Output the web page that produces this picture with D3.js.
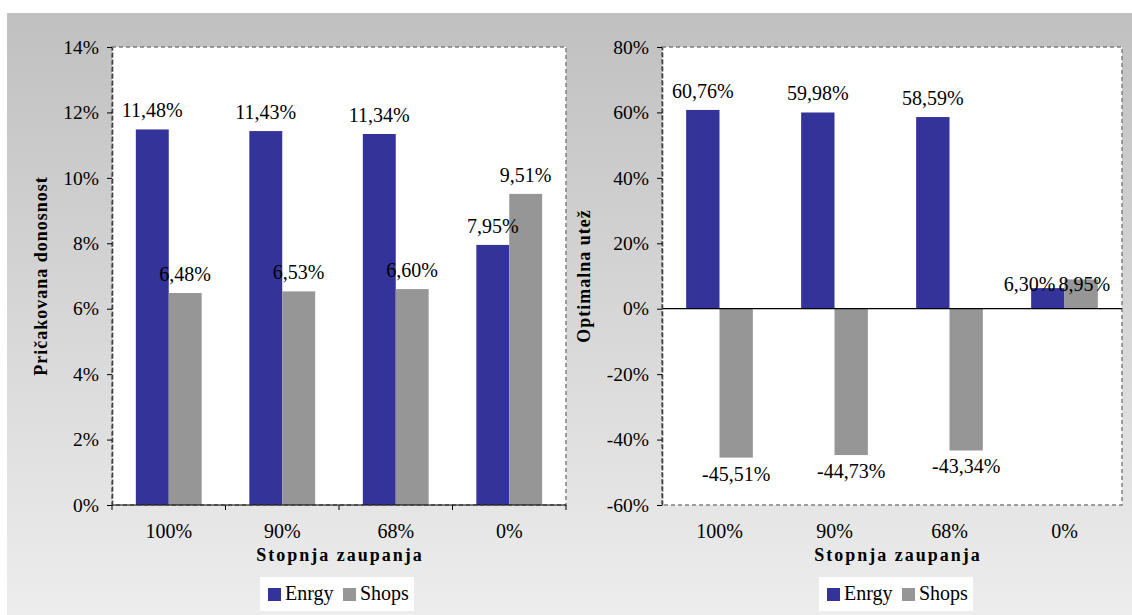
<!DOCTYPE html>
<html>
<head>
<meta charset="utf-8">
<script src="https://cdn.jsdelivr.net/npm/d3@7/dist/d3.min.js"></script>
<style>
  body { margin: 0; background: #fff; }
</style>
</head>
<body>
<div id="chart"></div>
<script>
const categories = ["100%", "90%", "68%", "0%"];
const seriesNames = ["Enrgy", "Shops"];
const seriesColors = ["#333399", "#969696"];

// pričakovana donosnost (%)
const returnEnergy = [11.48, 11.43, 11.34, 7.95];
const returnShops = [6.48, 6.53, 6.60, 9.51];
const returnTicks = [0, 2, 4, 6, 8, 10, 12, 14];

// optimalna utež (%)
const weightEnergy = [60.76, 59.98, 58.59, 6.30];
const weightShops = [-45.51, -44.73, -43.34, 8.95];
const weightTicks = [-60, -40, -20, 0, 20, 40, 60, 80];

const xTitle = "Stopnja zaupanja";

const width = 1132, height = 615;
const FONT = "'Liberation Serif'";

const svg = d3.select("#chart").append("svg")
    .attr("width", width)
    .attr("height", height)
    .style("font-family", FONT);

const defs = svg.append("defs");
const grad = defs.append("linearGradient")
    .attr("id", "bg")
    .attr("x1", 0).attr("y1", 0).attr("x2", 0).attr("y2", 1);
grad.append("stop").attr("offset", "0%").attr("stop-color", "#c0c0c0");
grad.append("stop").attr("offset", "100%").attr("stop-color", "#ededed");

svg.append("rect").attr("width", width).attr("height", height).attr("fill", "#fff");

const fmt = v => v.toFixed(2).replace(".", ",") + "%";

function drawChart(o) {
    const g = svg.append("g");

    g.append("rect")
        .attr("x", o.left).attr("y", 13)
        .attr("width", o.right - o.left).attr("height", height - 13)
        .attr("fill", "url(#bg)");

    const x = d3.scaleBand().domain(categories).range([o.px0, o.px1]);
    const y = d3.scaleLinear().domain(o.domain).range([o.py1, o.py0]);
    const inner = d3.scaleBand().domain(seriesNames)
        .range([0, x.bandwidth() * 0.58]);
    const off = x.bandwidth() * 0.21;

    g.append("rect")
        .attr("x", o.px0).attr("y", o.py0)
        .attr("width", o.px1 - o.px0).attr("height", o.py1 - o.py0)
        .attr("fill", "#fff");

    const rows = categories.map((c, i) => ({
        cat: c,
        vals: o.series.map((s, k) => ({ name: seriesNames[k], k: k, v: s[i] }))
    }));

    const grp = g.selectAll(".grp")
        .data(rows)
        .enter().append("g")
        .attr("class", "grp")
        .attr("transform", d => "translate(" + (x(d.cat) + off) + ",0)");

    grp.selectAll("rect")
        .data(d => d.vals)
        .enter().append("rect")
        .attr("x", d => inner(d.name))
        .attr("width", inner.bandwidth())
        .attr("y", d => y(Math.max(0, d.v)))
        .attr("height", d => Math.abs(y(d.v) - y(0)))
        .attr("fill", d => seriesColors[d.k]);

    // plot border
    g.append("rect")
        .attr("x", o.px0).attr("y", o.py0)
        .attr("width", o.px1 - o.px0).attr("height", o.py1 - o.py0)
        .attr("fill", "none")
        .attr("stroke", "#808080")
        .attr("stroke-width", 1.5)
        .attr("stroke-dasharray", "4,3");

    // zero line
    g.append("line")
        .attr("x1", o.px0).attr("x2", o.px1)
        .attr("y1", y(0)).attr("y2", y(0))
        .attr("stroke", "#000").attr("stroke-width", 1.2);

    // y axis
    const ya = g.append("g")
        .attr("transform", "translate(" + o.px0 + ",0)")
        .call(d3.axisLeft(y).tickValues(o.ticks).tickSize(5).tickSizeOuter(0)
            .tickPadding(8).tickFormat(d => d + "%"));
    ya.attr("font-family", null).attr("font-size", null);
    ya.select(".domain").attr("stroke", "#404040").attr("stroke-width", 1.6)
        .attr("stroke-dasharray", "5,2");
    ya.selectAll(".tick line").attr("stroke", "#000");
    ya.selectAll("text").style("font-family", FONT).attr("font-size", 19.5);

    // x axis labels
    const xa = g.append("g")
        .attr("transform", "translate(0," + o.py1 + ")")
        .call(d3.axisBottom(x).tickSize(0).tickPadding(19));
    xa.attr("font-family", null).attr("font-size", null);
    xa.select(".domain").remove();
    xa.selectAll("text").style("font-family", FONT).attr("font-size", 20);

    if (o.catTicks) {
        const bounds = categories.map(c => x(c)).concat([o.px1]);
        g.selectAll(".ctick")
            .data(bounds)
            .enter().append("line")
            .attr("x1", d => d).attr("x2", d => d)
            .attr("y1", y(0)).attr("y2", y(0) + 5)
            .attr("stroke", "#000");
    }

    // data labels
    grp.selectAll(".lbl")
        .data(d => d.vals)
        .enter().append("text")
        .attr("class", "lbl")
        .attr("x", d => inner(d.name) + inner.bandwidth() / 2)
        .attr("y", d => d.v >= 0 ? y(d.v) - 12 : y(d.v) + 23)
        .attr("text-anchor", "middle")
        .style("font-family", FONT)
        .attr("font-size", 20)
        .text(d => fmt(d.v));

    // push labels apart when they collide inside a group
    grp.each(function() {
        const ts = d3.select(this).selectAll(".lbl").nodes();
        if (ts.length < 2) return;
        const a = ts[0].getBBox(), b = ts[1].getBBox();
        const hit = a.x < b.x + b.width && b.x < a.x + a.width &&
            a.y < b.y + b.height && b.y < a.y + a.height;
        if (hit) {
            const ly = Math.max(+ts[0].getAttribute("y"), +ts[1].getAttribute("y")) + 15;
            const mid = inner.bandwidth() - 8;
            d3.select(ts[0]).attr("y", ly).attr("text-anchor", "end").attr("x", mid - 1);
            d3.select(ts[1]).attr("y", ly).attr("text-anchor", "start").attr("x", mid + 2);
        }
    });

    // titles
    g.append("text")
        .attr("x", o.titleX).attr("y", 561)
        .attr("text-anchor", "middle")
        .style("font-family", FONT)
        .attr("font-size", 18).attr("font-weight", "bold")
        .attr("letter-spacing", 2)
        .text(xTitle);

    g.append("text")
        .attr("transform", "translate(" + o.yTitleX + "," + ((o.py0 + o.py1) / 2) + ") rotate(-90)")
        .attr("text-anchor", "middle")
        .style("font-family", FONT)
        .attr("font-size", 18).attr("font-weight", "bold")
        .attr("letter-spacing", 1)
        .text(o.yTitle);

    // legend
    const lg = g.append("g").attr("transform", "translate(" + o.legendX + ",577)");
    lg.append("rect").attr("width", 154).attr("height", 34).attr("fill", "#fff");
    seriesNames.forEach((n, k) => {
        lg.append("rect")
            .attr("x", 8 + k * 75).attr("y", 11)
            .attr("width", 13).attr("height", 13)
            .attr("fill", seriesColors[k]);
        lg.append("text")
            .attr("x", 25 + k * 75).attr("y", 23)
            .style("font-family", FONT)
            .attr("font-size", 20)
            .text(n);
    });
}

drawChart({
    left: 7, right: 567,
    px0: 112, px1: 566, py0: 47, py1: 505,
    domain: [0, 14], ticks: returnTicks,
    series: [returnEnergy, returnShops],
    yTitle: "Pričakovana donosnost", yTitleX: 47,
    titleX: 340, legendX: 260, catTicks: true
});

drawChart({
    left: 567, right: 1132,
    px0: 662, px1: 1122, py0: 47, py1: 505,
    domain: [-60, 80], ticks: weightTicks,
    series: [weightEnergy, weightShops],
    yTitle: "Optimalna utež", yTitleX: 590,
    titleX: 898, legendX: 819, catTicks: false
});
</script>
</body>
</html>
